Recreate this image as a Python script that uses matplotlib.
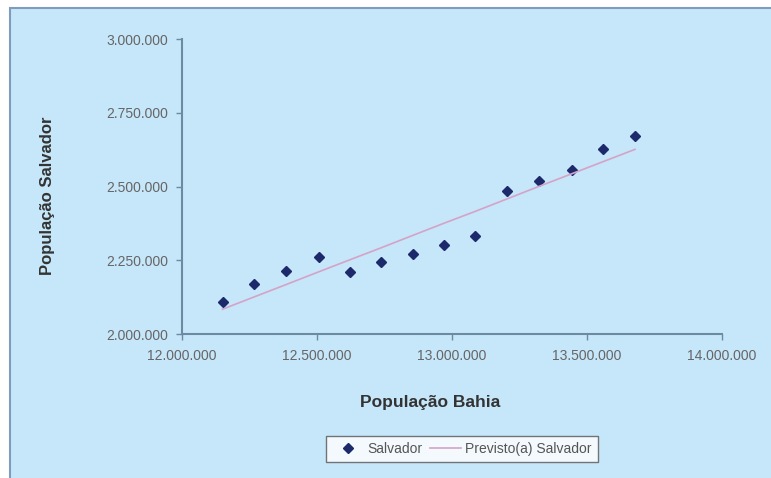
import matplotlib
matplotlib.use('Agg')
import matplotlib.pyplot as plt
from matplotlib.patches import Rectangle
from matplotlib.ticker import FuncFormatter

# Populacao Bahia (x) vs Populacao Salvador (y)
bahia = [12150000, 12268000, 12384000, 12507000, 12623000, 12737000, 12854000,
         12969000, 13087000, 13204000, 13321000, 13443000, 13559000, 13678000]
salvador = [2108000, 2170000, 2215000, 2261000, 2210000, 2243000, 2272000,
            2301000, 2331000, 2486000, 2517000, 2556000, 2628000, 2670000]
previsto = [2084000, 2126000, 2167000, 2211000, 2252000, 2292000, 2334000,
            2375000, 2416000, 2458000, 2500000, 2543000, 2584000, 2626000]

xticks = [12000000, 12500000, 13000000, 13500000, 14000000]
yticks = [2000000, 2250000, 2500000, 2750000, 3000000]

plt.rcParams['font.family'] = ['Liberation Sans', 'DejaVu Sans']

bg = '#c6e6f9'
fig = plt.figure(figsize=(7.71, 4.78), dpi=100, facecolor='white')
fig.patches.append(Rectangle((10 / 771, -0.05), 1.1, (470 + 0.05 * 478) / 478,
                             transform=fig.transFigure, facecolor=bg,
                             edgecolor='#7f9cbc', linewidth=1.5, zorder=-10))

ax = fig.add_axes([182 / 771, 1 - 334 / 478, 540 / 771, 295 / 478])
ax.set_facecolor('none')

ax.plot(bahia, salvador, linestyle='none', marker='D', markersize=5,
        color='#1c2a6b', label='Salvador')
ax.plot(bahia, previsto, color='#d4a3c8', linewidth=1.2,
        label='Previsto(a) Salvador')

ax.set_xlim(12000000, 14000000)
ax.set_ylim(2000000, 3000000)
ax.set_xticks(xticks)
ax.set_yticks(yticks)

def dots(v, pos):
    return f'{int(v):,}'.replace(',', '.')

ax.xaxis.set_major_formatter(FuncFormatter(dots))
ax.yaxis.set_major_formatter(FuncFormatter(dots))

for s in ['top', 'right']:
    ax.spines[s].set_visible(False)
for s in ['left', 'bottom']:
    ax.spines[s].set_color('#6d8aa3')
    ax.spines[s].set_linewidth(1.5)
ax.tick_params(colors='#6d8aa3', labelcolor='#666666', labelsize=10,
               length=4, width=1)
ax.tick_params(axis='x', pad=7)
ax.tick_params(axis='y', pad=6)

fig.text(430 / 771, 1 - 402 / 478, 'População Bahia', ha='center', va='center',
         fontsize=12.5, fontweight='bold', color='#333333')
fig.text(48 / 771, 1 - 196 / 478, 'População Salvador', ha='center', va='center',
         rotation=90, fontsize=12, fontweight='bold', color='#333333')

leg = fig.legend(loc='center', bbox_to_anchor=(462 / 771, 1 - 449 / 478), ncol=2,
                 frameon=True, fancybox=False, fontsize=10, handlelength=2.2,
                 columnspacing=0.6, handletextpad=0.3, borderpad=0.45)
leg.get_frame().set_edgecolor('#555555')
leg.get_frame().set_facecolor('white')
for t in leg.get_texts():
    t.set_color('#555555')

fig.savefig('out.png', dpi=100, facecolor='white')
